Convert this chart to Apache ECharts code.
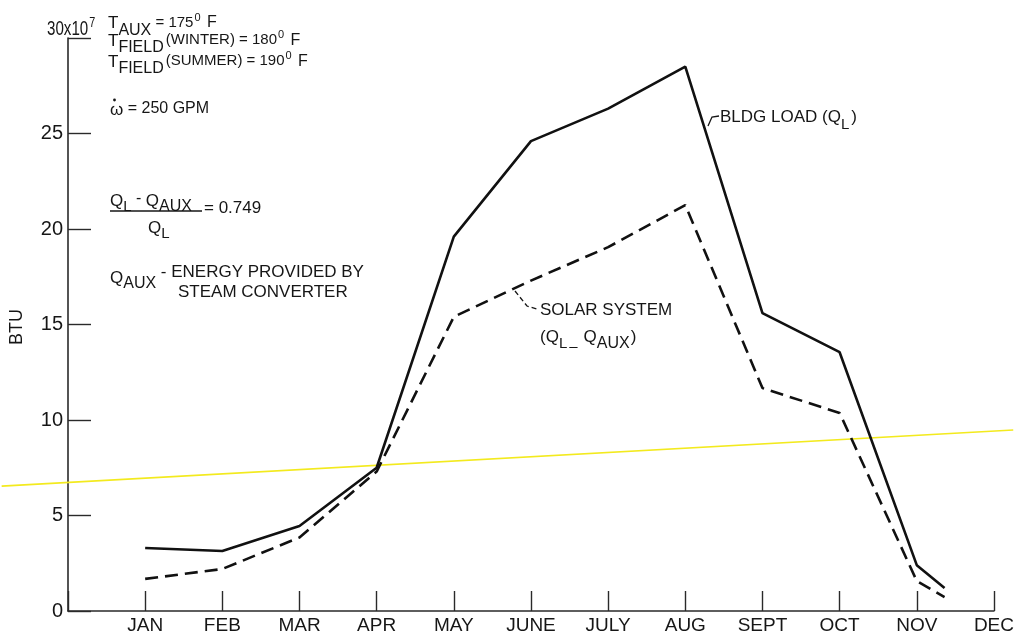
<!DOCTYPE html>
<html>
<head>
<meta charset="utf-8">
<script src="https://cdn.jsdelivr.net/npm/echarts@6/dist/echarts.min.js"></script>
<style>html,body{margin:0;padding:0;background:#fff}#c{width:1017px;height:635px}</style>
</head>
<body>
<div id="c"></div>
<script>
// ---- data ----
const monthLabels = ['JAN','FEB','MAR','APR','MAY','JUNE','JULY','AUG','SEPT','OCT','NOV','DEC'];
const bldgLoad    = [3.3, 3.14, 4.45, 7.5, 19.6, 24.6, 26.3, 28.5, 15.6, 13.55, 2.4];
const solarSystem = [1.68, 2.2, 3.85, 7.3, 15.4, 17.3, 19.05, 21.25, 11.67, 10.37, 1.57];
const tailMonth = 11.36;          // curves end part-way into NOV-DEC
const bldgLoadTail = 1.2;
const solarSystemTail = 0.73;
const yTicks = [0, 5, 10, 15, 20, 25, 30];
const highlightX = [-0.86, 12.25]; // yellow marker stroke across the scan
const highlightY = [6.54, 9.48];

const SANS = '"Liberation Sans", Arial, sans-serif';
const INK = '#161616';

const toPairs = (vals, tail) => vals.map((v, i) => [i + 1, v]).concat([[tailMonth, tail]]);

const mctx = document.createElement('canvas').getContext('2d');
function textWidth(t, size) {
  mctx.font = size + 'px ' + SANS;
  return mctx.measureText(t).width;
}
// segs: [text, size, dy, gapBefore]; sx = horizontal condensing
function run(x, y, segs, sx) {
  sx = sx || 1;
  const out = [];
  let cx = x;
  segs.forEach(s => {
    const [t, size, dy, gapBefore] = s;
    cx += gapBefore || 0;
    out.push({
      type: 'text', x: cx, y: y + (dy || 0), scaleX: sx, silent: true,
      style: { text: t, font: size + 'px ' + SANS, fontSize: size, fontFamily: SANS, fill: INK,
               align: 'left', verticalAlign: 'middle' }
    });
    cx += textWidth(t, size) * sx;
  });
  return out;
}

const graphics = [].concat(
  // 30x10^7 top label
  run(47, 29, [['30x10', 21, 0], ['7', 15, -6, 1]], 0.72),
  // BTU axis title
  [{ type: 'text', x: 17, y: 327, rotation: Math.PI / 2, silent: true,
     style: { text: 'BTU', font: '18px ' + SANS, fontSize: 18, fontFamily: SANS, fill: INK, align: 'center', verticalAlign: 'middle' } }],
  // top-left conditions
  run(108, 23, [['T', 17, 0], ['AUX', 16, 8], [' = 175', 15, 0], ['0', 11, -5, 1], [' F', 16, 0, 2]]),
  run(108, 41, [['T', 17, 0], ['FIELD', 16, 7], ['(WINTER) = 180', 15, -1, 2], ['0', 11, -6, 1], [' F', 16, 0, 2]]),
  run(108, 62, [['T', 17, 0], ['FIELD', 16, 7], ['(SUMMER) = 190', 15, -1, 2], ['0', 11, -6, 1], [' F', 16, 0, 2]]),
  run(110, 110, [['\u03c9', 17, 0], [' = 250 GPM', 16, -1]]),
  [{ type: 'circle', silent: true, shape: { cx: 114.5, cy: 100, r: 1.4 }, style: { fill: INK } }],
  // fraction
  run(110, 201, [['Q', 17, 0], ['L', 15, 6], [' - ', 16, -2], ['Q', 17, 0], ['AUX', 16, 6]]),
  [{ type: 'line', silent: true, shape: { x1: 110, y1: 211, x2: 202, y2: 211 }, style: { stroke: INK, lineWidth: 1.6 } }],
  run(148, 228, [['Q', 17, 0], ['L', 15, 6]]),
  run(204, 208, [['= 0.749', 17, 0]]),
  // Q_AUX definition
  run(110, 278, [['Q', 17, 0], ['AUX', 16, 6], [' - ENERGY PROVIDED BY', 17, -6]]),
  run(178, 292, [['STEAM CONVERTER', 17, 0]]),
  // BLDG LOAD label + leader
  run(720, 117, [['BLDG LOAD (Q', 17, 0], ['L', 15, 8], [')', 17, 0, 2]]),
  [{ type: 'polyline', silent: true, shape: { points: [[708, 126], [712, 117], [719, 116]] }, style: { stroke: INK, lineWidth: 1.3, fill: null } }],
  // SOLAR SYSTEM label + leader
  run(540, 310, [['SOLAR SYSTEM', 17, 0]]),
  run(540, 337, [['(Q', 17, 0], ['L', 15, 7], ['\u2013', 15, 10, 2], ['Q', 17, 0, 6], ['AUX', 16, 7], [')', 17, 0, 1]]),
  [{ type: 'polyline', silent: true, shape: { points: [[515, 291], [527, 306], [537, 309]] }, style: { stroke: INK, lineWidth: 1.3, fill: null, lineDash: [5, 3] } }]
);

const chart = echarts.init(document.getElementById('c'), null, { renderer: 'canvas' });
chart.setOption({
  animation: false,
  backgroundColor: '#ffffff',
  grid: { left: 68, right: 19, top: 38, bottom: 24, containLabel: false },
  xAxis: {
    type: 'value', min: 0, max: 12, interval: 1,
    axisLine: { show: true, onZero: false, lineStyle: { color: '#2a2a2a', width: 1.6 } },
    axisTick: { show: true, inside: true, length: 20, lineStyle: { color: '#2a2a2a', width: 1.4 } },
    axisLabel: { margin: 5, fontSize: 19, fontFamily: SANS, color: INK,
                 formatter: v => (v >= 1 && v <= 12) ? monthLabels[v - 1] : '' },
    splitLine: { show: false }
  },
  yAxis: {
    type: 'value', min: yTicks[0], max: yTicks[yTicks.length - 1], interval: 5,
    axisLine: { show: true, lineStyle: { color: '#2a2a2a', width: 1.6 } },
    axisTick: { show: true, inside: true, length: 23, lineStyle: { color: '#2a2a2a', width: 1.4 } },
    axisLabel: { margin: 5, fontSize: 20, fontFamily: SANS, color: INK,
                 formatter: v => v === 30 ? '' : String(v) },
    splitLine: { show: false }
  },
  series: [
    { name: 'BLDG LOAD (QL)', type: 'line', data: toPairs(bldgLoad, bldgLoadTail), symbol: 'none',
      lineStyle: { color: '#111', width: 2.6, type: 'solid' }, z: 3 },
    { name: 'SOLAR SYSTEM (QL - QAUX)', type: 'line', data: toPairs(solarSystem, solarSystemTail), symbol: 'none',
      lineStyle: { color: '#111', width: 2.6, type: [13, 7] }, z: 3 }
  ],
  graphic: graphics
});

// yellow marker stroke: placed through the chart's own scales, extending past the plot area
const p0 = chart.convertToPixel({ gridIndex: 0 }, [highlightX[0], highlightY[0]]);
const p1 = chart.convertToPixel({ gridIndex: 0 }, [highlightX[1], highlightY[1]]);
chart.setOption({
  graphic: graphics.concat([{ type: 'line', silent: true, z: 1,
    shape: { x1: p0[0], y1: p0[1], x2: p1[0], y2: p1[1] },
    style: { stroke: '#f3ea1e', lineWidth: 1.6 } }])
});
</script>
</body>
</html>
